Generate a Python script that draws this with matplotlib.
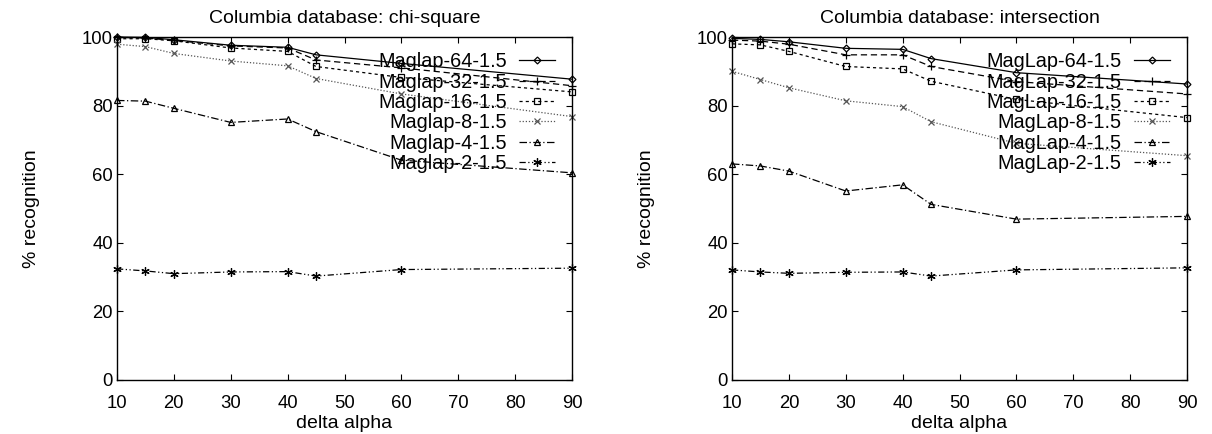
import matplotlib.pyplot as plt

plt.rcParams['font.family'] = ['Liberation Sans', 'DejaVu Sans']

# x values (delta alpha)
delta = [10, 15, 20, 30, 40, 45, 60, 90]

# chi-square results
chi_64 = [100, 99.9, 99.2, 97.6, 97.0, 94.8, 92.3, 87.7]
chi_32 = [99.9, 99.7, 99.0, 97.4, 96.8, 93.3, 91.0, 85.8]
chi_16 = [99.5, 99.5, 98.9, 96.8, 95.8, 91.4, 88.2, 84.0]
chi_8 = [97.9, 97.2, 95.2, 93.0, 91.6, 87.9, 83.4, 76.8]
chi_4 = [81.5, 81.3, 79.2, 75.1, 76.1, 72.4, 64.1, 60.4]
chi_2 = [32.4, 31.8, 31.0, 31.5, 31.6, 30.3, 32.2, 32.6]

# intersection results
int_64 = [99.6, 99.3, 98.6, 96.7, 96.4, 93.7, 89.6, 86.3]
int_32 = [99.1, 98.8, 97.9, 94.8, 94.8, 91.4, 87.0, 83.4]
int_16 = [98.0, 97.7, 95.8, 91.4, 90.7, 87.1, 81.8, 76.5]
int_8 = [90.0, 87.6, 85.2, 81.4, 79.7, 75.3, 69.0, 65.4]
int_4 = [63.0, 62.4, 60.9, 55.1, 56.9, 51.2, 46.9, 47.7]
int_2 = [32.1, 31.5, 31.1, 31.4, 31.5, 30.3, 32.1, 32.7]

sizes = ['64', '32', '16', '8', '4', '2']

styles = [
    dict(ls='-', marker='D', ms=3.5, color='black'),
    dict(ls=(0, (5, 3)), marker='+', ms=6, color='black'),
    dict(ls=(0, (2.5, 2.5)), marker='s', ms=4.5, color='black'),
    dict(ls=(0, (1, 1.5)), marker='x', ms=4.5, color='#555555'),
    dict(ls=(0, (6, 2, 1, 2)), marker='^', ms=4.5, color='black'),
    dict(ls=(0, (5, 2, 1, 2, 1, 2)), marker=(6, 2, 0), ms=6, color='black'),
]

fig = plt.figure(figsize=(12.12, 4.34), dpi=100)
ax1 = fig.add_axes([117 / 1212, 54 / 434, 455 / 1212, 343 / 434])
ax2 = fig.add_axes([732 / 1212, 54 / 434, 455 / 1212, 343 / 434])

panels = [
    (ax1, [chi_64, chi_32, chi_16, chi_8, chi_4, chi_2], 'Maglap', 'Columbia database: chi-square'),
    (ax2, [int_64, int_32, int_16, int_8, int_4, int_2], 'MagLap', 'Columbia database: intersection'),
]

for ax, series, name, title in panels:
    for vals, size, st in zip(series, sizes, styles):
        ax.plot(delta, vals, lw=0.9, fillstyle='none', mew=0.9, clip_on=False,
                label='%s-%s-1.5' % (name, size), **st)
    ax.set_xlim(10, 90)
    ax.set_ylim(0, 100)
    ax.set_xticks(range(10, 91, 10))
    ax.set_yticks(range(0, 101, 20))
    ax.tick_params(direction='in', top=True, right=True, length=4, width=0.8,
                   labelsize=13.3)
    ax.tick_params(axis='x', pad=11)
    ax.tick_params(axis='y', pad=3)
    for sp in ax.spines.values():
        sp.set_linewidth(1.0)
    ax.set_title(title, fontsize=14, pad=10)
    ax.set_xlabel('delta alpha', fontsize=14, labelpad=2)
    ax.set_ylabel('% recognition', fontsize=14, labelpad=30)
    ax.legend(loc='upper right', bbox_to_anchor=(0.963, 0.955), frameon=False,
              markerfirst=False, fontsize=14.3, handlelength=1.8,
              handletextpad=0.65, labelspacing=0.065, borderpad=0,
              borderaxespad=0)

fig.savefig('out.png', dpi=100)
